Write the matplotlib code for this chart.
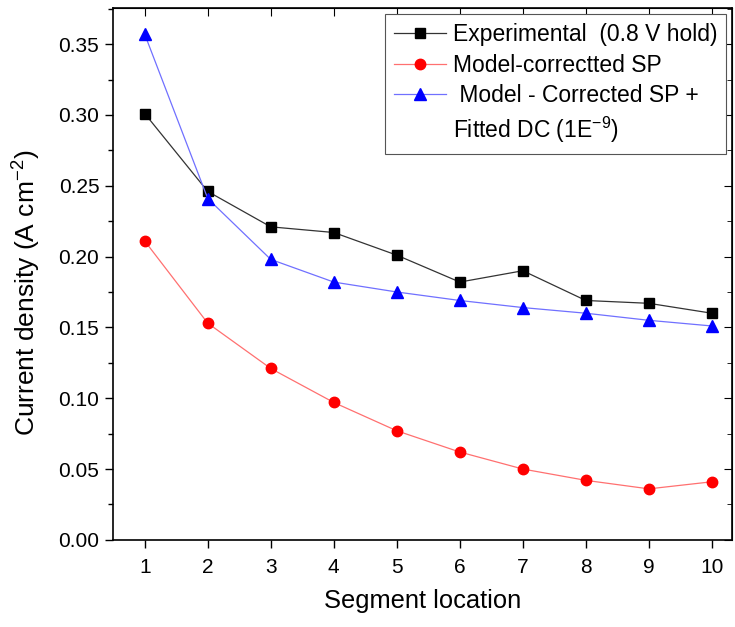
import numpy as np
import matplotlib
matplotlib.use("Agg")
import matplotlib.pyplot as plt
from matplotlib.ticker import MultipleLocator
from matplotlib.lines import Line2D

plt.rcParams['font.family'] = ['Liberation Sans', 'DejaVu Sans']
plt.rcParams['mathtext.fontset'] = 'custom'
plt.rcParams['mathtext.rm'] = 'Liberation Sans'
plt.rcParams['mathtext.default'] = 'regular'

segments = [1, 2, 3, 4, 5, 6, 7, 8, 9, 10]
experimental = [0.301, 0.246, 0.221, 0.217, 0.201, 0.182, 0.190, 0.169, 0.167, 0.160]
model_sp = [0.211, 0.153, 0.121, 0.097, 0.077, 0.062, 0.050, 0.042, 0.036, 0.041]
model_sp_dc = [0.357, 0.241, 0.198, 0.182, 0.175, 0.169, 0.164, 0.160, 0.155, 0.151]

legend_labels = ['Experimental  (0.8 V hold)', 'Model-correctted SP',
                 ' Model - Corrected SP +', 'Fitted DC (1E$^{-9}$)']

fig = plt.figure(figsize=(7.35, 6.27), dpi=100)
ax = fig.add_axes([0.154, 0.139, 0.842, 0.848])

l1, = ax.plot(segments, experimental, color='#333333', lw=0.9, marker='s', ms=7,
              mfc='black', mec='black')
l2, = ax.plot(segments, model_sp, color='#ff7070', lw=0.9, marker='o', ms=7.5,
              mfc='red', mec='red')
l3, = ax.plot(segments, model_sp_dc, color='#7070ff', lw=0.9, marker='^', ms=8.5,
              mfc='blue', mec='blue')
blank = Line2D([], [], color='none')

ax.set_xlim(0.5, 10.32)
ax.set_ylim(0, 0.3754)
ax.set_xticks(segments)
ax.yaxis.set_major_locator(MultipleLocator(0.05))
ax.yaxis.set_minor_locator(MultipleLocator(0.025))
ax.yaxis.set_major_formatter(matplotlib.ticker.FormatStrFormatter('%.2f'))

ax.tick_params(axis='both', which='major', labelsize=15, length=6, width=1, direction='out')
ax.tick_params(axis='y', which='minor', length=3.5, width=1, direction='out')
ax.tick_params(axis='x', which='major', pad=7)
ax.tick_params(axis='y', which='major', pad=4)

# mirrored inward ticks on top and right, Origin style
top = ax.secondary_xaxis('top')
top.set_xticks(segments)
top.tick_params(direction='in', length=6, labeltop=False)
right = ax.secondary_yaxis('right')
right.yaxis.set_major_locator(MultipleLocator(0.05))
right.yaxis.set_minor_locator(MultipleLocator(0.025))
right.tick_params(which='major', direction='in', length=6, labelright=False)
right.tick_params(which='minor', direction='in', length=3.5)

for s in ax.spines.values():
    s.set_linewidth(1.2)

ax.set_xlabel('Segment location', fontsize=18.4, labelpad=9)
ax.set_ylabel('Current density (A cm$^{-2}$)', fontsize=19)
ax.yaxis.set_label_coords(-0.113, 0.464)

leg = ax.legend([l1, l2, l3, blank], legend_labels, loc='upper right',
                fontsize=16.5, frameon=True, fancybox=False,
                edgecolor='#555555', framealpha=1, borderaxespad=0.25,
                handlelength=2.25, labelspacing=0.33, borderpad=0.4,
                handletextpad=0.3)
leg.get_frame().set_linewidth(0.8)

fig.savefig('out.png', dpi=100)
